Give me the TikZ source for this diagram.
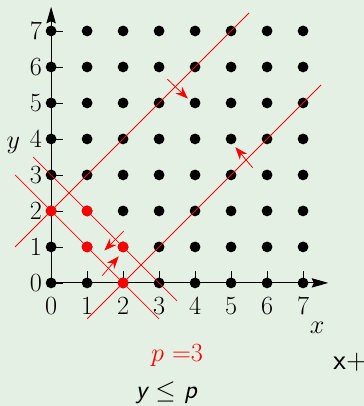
\documentclass[tikz,border=0pt]{standalone}
\usepackage{fontspec}
\usetikzlibrary{arrows.meta}
\definecolor{bggreen}{RGB}{229,240,228}
\begin{document}
\begin{tikzpicture}[dot/.style={circle, fill=black, inner sep=0pt, minimum size=0.3cm},
        reddot/.style={dot, fill=red},
        cut/.style={red, line width=0.6pt},
        push/.style={red, line width=0.6pt, -{Stealth[length=3.5mm, width=2.6mm]}},
        axis/.style={line width=0.7pt, -{Stealth[length=4.6mm, width=2.6mm, inset=0.6mm]}},
        every node/.append style={font=\huge}]
        \fill[bggreen] (-1.42,-3.42) rectangle (8.69,7.86);
        \useasboundingbox (-1.42,-3.42) rectangle (8.69,7.86);
        % axes
        \coordinate (o) at (0,0);
        \coordinate (xend) at (7.7,0);
        \coordinate (yend) at (0,7.67);
        \draw[axis] (o) -- (xend);
        \draw[axis] (o) -- (yend);
        \foreach \i in {0,...,7} {
            \draw[line width=0.5pt] (\i,0) -- (\i,0.32);
            \draw[line width=0.5pt] (0,\i) -- (0.32,\i);
            \node (xl\i) at (\i,-0.64) {\i};
            \node (yl\i) at (-0.42,\i) {\i};
        }
        \node (xlab) at (7.39,-1.25) {$x$};
        \node (ylab) at (-1.05,3.83) {$y$};
        % lattice
        \foreach \x in {0,...,7}
            \foreach \y in {0,...,7}
                \node[dot] (d\x\y) at (\x,\y) {};
        \foreach \p in {02,12,11,21,20}
            \node[reddot] (r\p) at (d\p) {};
        % cuts
        \draw[cut] (-1,3) -- (3,-1);
        \draw[cut] (-0.5,3.5) -- (3.5,-0.5);
        \draw[cut] (-1,1) -- (5.5,7.5);
        \draw[cut] (1,-1) -- (7.5,5.5);
        \draw[push] (5.6,3.2) -- (5.12,3.77);
        \draw[push] (3.23,5.66) -- (3.8,5.12);
        \draw[push] (1.42,0.2) -- (1.88,0.74);
        \draw[push] (2.02,1.44) -- (1.48,0.9);
        % texts
        \node[red] (pval) at (3.5,-2.0) {$p$ =3};
        \node[anchor=west] (sumtxt) at (7.72,-2.2) {\fontsize{23}{27}\selectfont\sffamily x+};
        \node (cons) at (3.2,-3.05) {\sffamily\slshape y \upshape$\leq$ \slshape p};
\end{tikzpicture}
\end{document}
